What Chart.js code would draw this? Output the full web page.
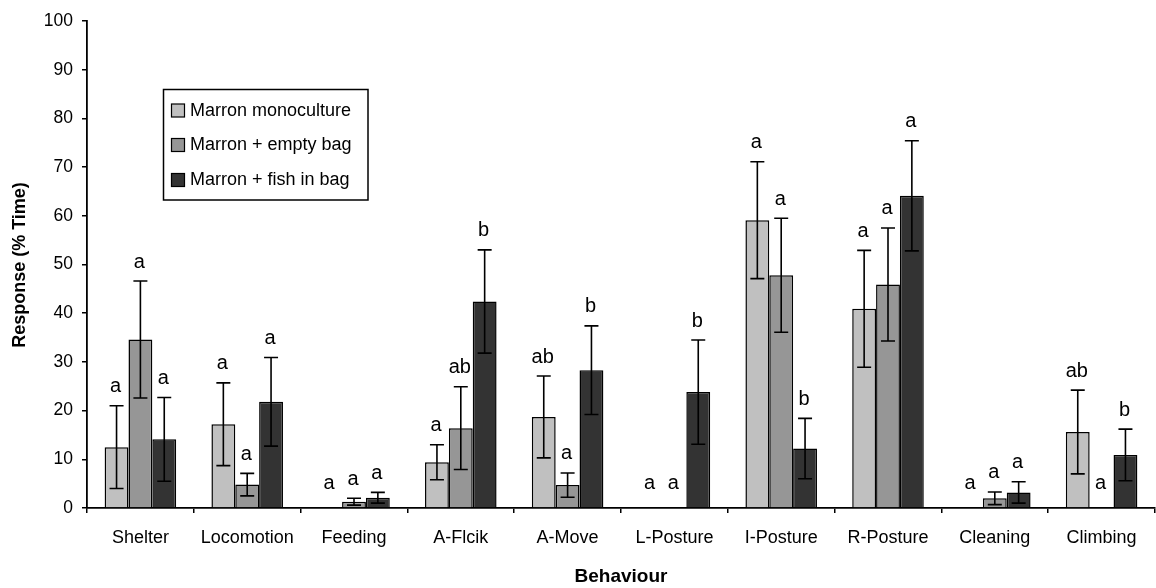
<!DOCTYPE html>
<html>
<head>
<meta charset="utf-8">
<script src="https://cdn.jsdelivr.net/npm/chart.js@4.4.1/dist/chart.umd.min.js"></script>
<style>
html,body{margin:0;padding:0;background:#fff;}
#wrap{width:1156px;height:588px;position:relative;}
</style>
</head>
<body>
<div id="wrap"><canvas id="c" width="1156" height="588"></canvas></div>
<script>
const categories = ['Shelter','Locomotion','Feeding','A-Flcik','A-Move','L-Posture','I-Posture','R-Posture','Cleaning','Climbing'];
const seriesNames = ['Marron monoculture','Marron + empty bag','Marron + fish in bag'];
const monoValues  = [12.5, 17.2, 0,   9.4, 18.7, 0,    59.1, 40.9, 0,   15.6];
const monoErr     = [8.5,  8.5,  0,   3.6, 8.4,  0,    12.0, 12.0, 0,   8.6];
const emptyValues = [34.6, 4.8,  1.3, 16.4, 4.7, 0,    47.8, 45.9, 2.0, 0];
const emptyErr    = [12.0, 2.3,  0.7, 8.5,  2.5, 0,    11.7, 11.6, 1.3, 0];
const fishValues  = [14.1, 21.8, 2.1, 42.4, 28.3, 23.8, 12.2, 64.1, 3.2, 10.9];
const fishErr     = [8.6,  9.1,  1.1, 10.6, 9.1, 10.7,  6.2, 11.3, 2.2, 5.3];
const monoLetters  = ['a','a','a','a','ab','a','a','a','a','ab'];
const emptyLetters = ['a','a','a','ab','a','a','a','a','a','a'];
const fishLetters  = ['a','a','a','b','b','b','b','a','a','b'];
const yTicks = [0,10,20,30,40,50,60,70,80,90,100];

const colors = ['#c0c0c0','#969696','#333333'];
const errs = [monoErr, emptyErr, fishErr];
const letters = [monoLetters, emptyLetters, fishLetters];
const FONT = "'Liberation Sans', Arial, sans-serif";

const annot = {
  id: 'annot',
  afterDatasetsDraw(chart) {
    const ctx = chart.ctx;
    const ys = chart.scales.y;
    ctx.save();
    chart.data.datasets.forEach((ds, i) => {
      const meta = chart.getDatasetMeta(i);
      meta.data.forEach((el, j) => {
        const v = ds.data[j], e = errs[i][j];
        const x = el.x;
        let topPx = ys.getPixelForValue(v + e);
        if (e > 0) {
          const lo = ys.getPixelForValue(v - e);
          ctx.strokeStyle = '#000';
          ctx.lineWidth = 1.6;
          ctx.beginPath();
          ctx.moveTo(x, topPx); ctx.lineTo(x, lo);
          ctx.moveTo(x - 7, topPx); ctx.lineTo(x + 7, topPx);
          ctx.moveTo(x - 7, lo); ctx.lineTo(x + 7, lo);
          ctx.stroke();
        }
        const off = (v === 0) ? 25 : 19;
        ctx.fillStyle = '#000';
        ctx.font = '20px ' + FONT;
        ctx.textAlign = 'center';
        ctx.textBaseline = 'middle';
        ctx.fillText(letters[i][j], x - 1, topPx - off);
      });
    });
    ctx.restore();
  },
  afterDraw(chart) {
    const ctx = chart.ctx;
    ctx.save();
    // axis titles
    ctx.fillStyle = '#000';
    ctx.font = 'bold 18px ' + FONT;
    ctx.textAlign = 'center';
    ctx.textBaseline = 'middle';
    ctx.save();
    ctx.translate(20, 265);
    ctx.rotate(-Math.PI / 2);
    ctx.fillText('Response (% Time)', 0, 0);
    ctx.restore();
    ctx.font = 'bold 19px ' + FONT;
    ctx.fillText('Behaviour', 621, 577);
    // legend
    const bx = 163.5, by = 89.5, bw = 204.5, bh = 110.5;
    ctx.fillStyle = '#fff';
    ctx.fillRect(bx, by, bw, bh);
    ctx.strokeStyle = '#000';
    ctx.lineWidth = 1.5;
    ctx.strokeRect(bx, by, bw, bh);
    const rows = [110.5, 145, 180];
    chart.data.datasets.forEach((ds, i) => {
      ctx.fillStyle = ds.backgroundColor;
      ctx.fillRect(171.5, rows[i] - 6.5, 13, 13);
      ctx.lineWidth = 1.2;
      ctx.strokeStyle = '#000';
      ctx.strokeRect(171.5, rows[i] - 6.5, 13, 13);
      ctx.fillStyle = '#000';
      ctx.font = '18px ' + FONT;
      ctx.textAlign = 'left';
      ctx.textBaseline = 'middle';
      ctx.fillText(ds.label, 190, rows[i] + 0.5);
    });
    ctx.restore();
  }
};

new Chart(document.getElementById('c'), {
  type: 'bar',
  data: {
    labels: categories,
    datasets: [monoValues, emptyValues, fishValues].map((d, i) => ({
      label: seriesNames[i],
      data: d,
      backgroundColor: colors[i],
      borderColor: '#000',
      borderWidth: 1.5,
      borderSkipped: 'bottom',
      categoryPercentage: 0.67,
      barPercentage: 1.0
    }))
  },
  options: {
    responsive: false,
    animation: false,
    devicePixelRatio: 1,
    layout: { padding: { top: 21, right: 1, left: 0, bottom: 0 } },
    plugins: { legend: { display: false }, tooltip: { enabled: false }, title: { display: false } },
    scales: {
      x: {
        offset: true,
        grid: { display: true, drawOnChartArea: false, drawTicks: true, tickLength: 5, color: '#000', lineWidth: 1.5, offset: true },
        border: { display: true, color: '#000', width: 1.8 },
        ticks: { color: '#000', font: { family: FONT, size: 18 }, padding: 14, maxRotation: 0, autoSkip: false },
        afterFit(s) { s.height = 80; }
      },
      y: {
        min: 0, max: 100,
        afterBuildTicks(s) { s.ticks = yTicks.map(v => ({ value: v })); },
        grid: { display: true, drawOnChartArea: false, drawTicks: true, tickLength: 5, color: '#000', lineWidth: 1.5 },
        border: { display: true, color: '#000', width: 1.8 },
        ticks: { color: '#000', font: { family: FONT, size: 17.5 }, padding: 9 },
        afterFit(s) { s.width = 87; }
      }
    }
  },
  plugins: [annot]
});
</script>
</body>
</html>
